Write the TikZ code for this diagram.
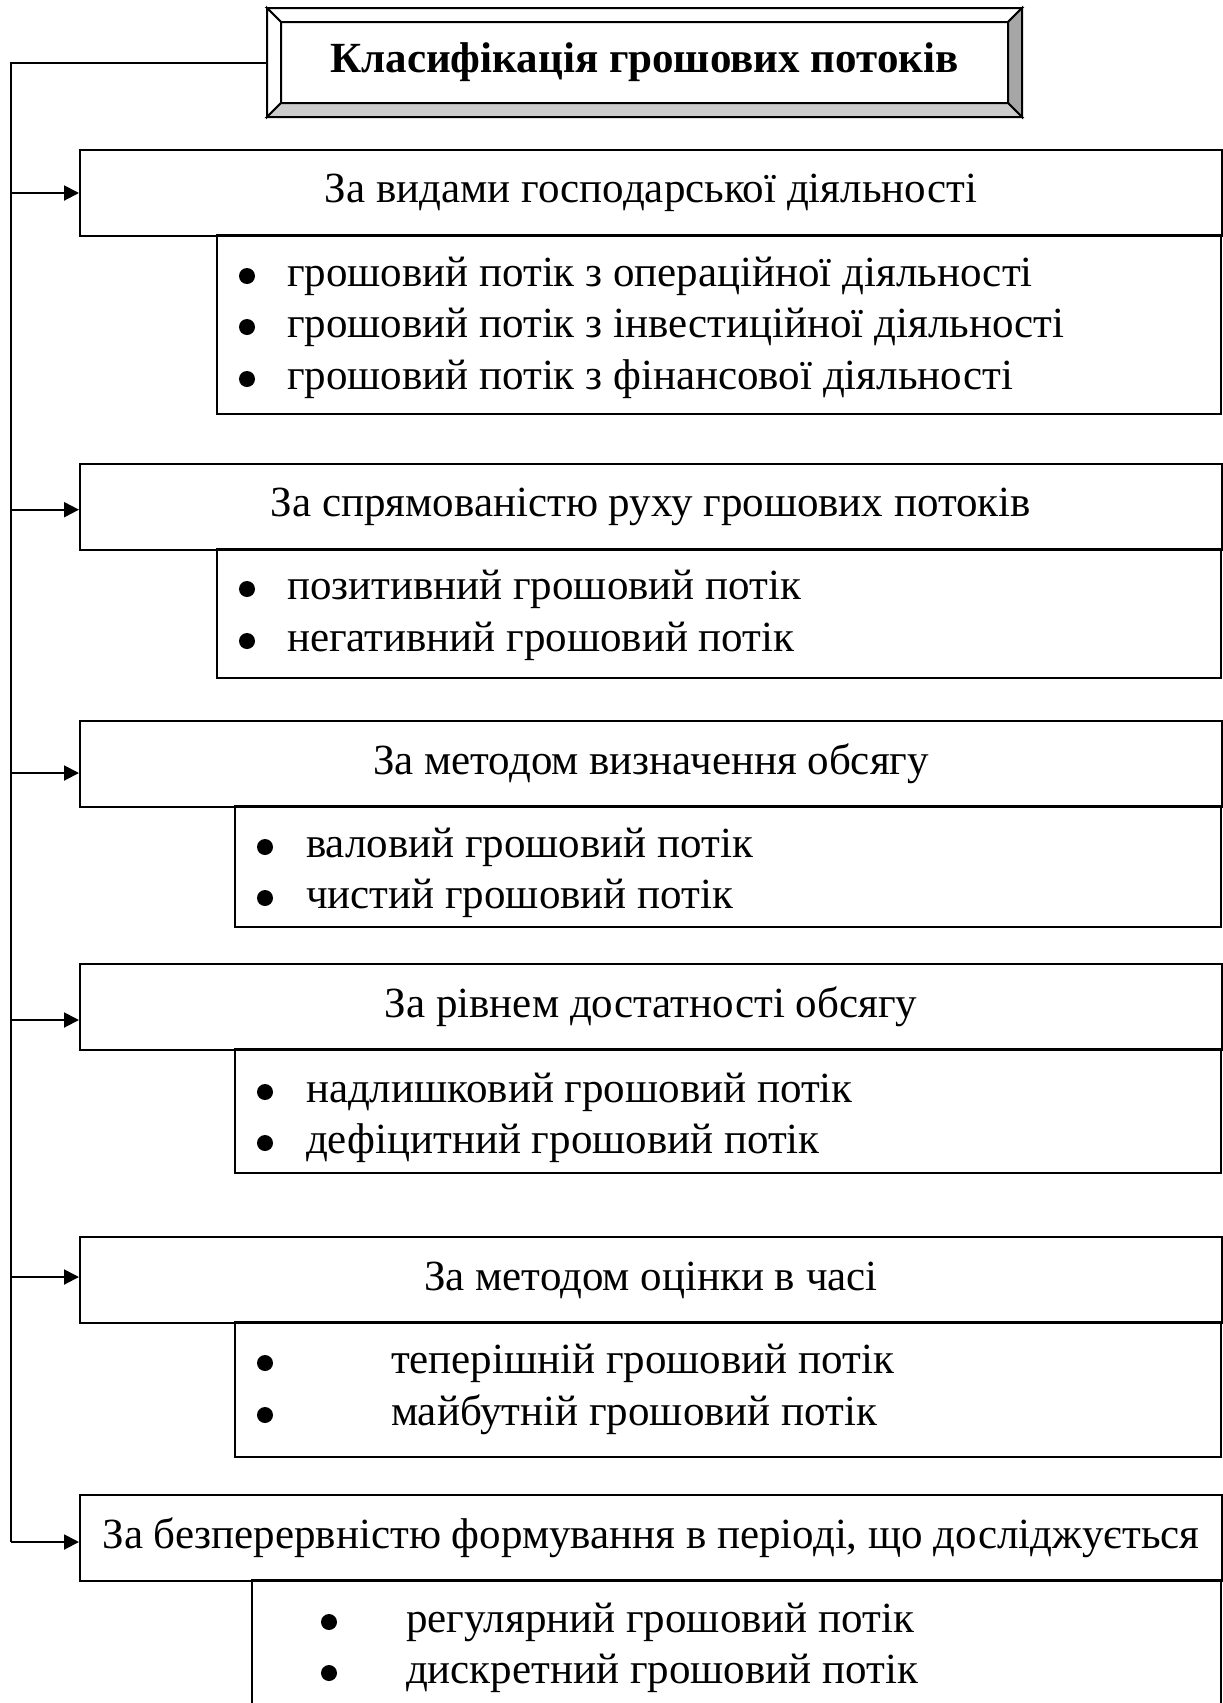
\documentclass[tikz,border=0pt]{standalone}
\usepackage{fontspec}
\setmainfont{Liberation Serif}
\usetikzlibrary{arrows.meta}

\newcommand\mainsize{\fontsize{12.9}{15.5}\selectfont}

\tikzset{
  ttlbox/.style={font=\mainsize\bfseries, minimum width=217.5pt, minimum height=23.7pt, inner sep=0pt},
  cat/.style={draw, anchor=north west, minimum width=342.6pt, minimum height=25.8pt, inner sep=0pt},
  item/.style={anchor=base west, inner sep=0pt, yshift=-3pt},
  arr/.style={-{Triangle[length=4.5pt,width=4.5pt]}},
}

\begin{document}
\begin{tikzpicture}[x=0.3pt, y=-0.3pt, line width=0.6pt, font=\mainsize]
  \useasboundingbox (0,0) rectangle (1223,1703);
  \clip (0,0) rectangle (1223,1703);

  % Title with bevelled frame
  \node[ttlbox] (ttl) at (644.5,62.5) {Класифікація грошових потоків};
  \coordinate (oNW) at ([shift={(-4.2pt,4.2pt)}]ttl.north west);
  \coordinate (oNE) at ([shift={(4.2pt,4.2pt)}]ttl.north east);
  \coordinate (oSW) at ([shift={(-4.2pt,-4.2pt)}]ttl.south west);
  \coordinate (oSE) at ([shift={(4.2pt,-4.2pt)}]ttl.south east);
  \filldraw[fill=white] (oNW) -- (oNE) -- (ttl.north east) -- (ttl.north west) -- cycle;
  \filldraw[fill=white] (oNW) -- (ttl.north west) -- (ttl.south west) -- (oSW) -- cycle;
  \filldraw[fill=black!35] (oNE) -- (oSE) -- (ttl.south east) -- (ttl.north east) -- cycle;
  \filldraw[fill=black!20] (oSW) -- (ttl.south west) -- (ttl.south east) -- (oSE) -- cycle;

  % Lists under the categories
  \foreach \l/\t/\b in {217/235/414, 217/549/678, 235/806/927, 235/1049/1173, 235/1322/1457, 252/1580/1720} {
    \draw (\l,\t) rectangle (1221,\b);
  }

  % Categories
  \foreach \name/\top/\txt in {
      c1/149/{За видами господарської діяльності},
      c2/463/{За спрямованістю руху грошових потоків},
      c3/720/{За методом визначення обсягу},
      c4/963/{За рівнем достатності обсягу},
      c5/1236/{За методом оцінки в часі},
      c6/1494/{За безперервністю формування в періоді, що досліджується}} {
    \node[cat] (\name) at (79,\top) {\txt};
  }

  % Items
  \foreach \xb/\xt/\y/\txt [count=\i] in {
      247/286/276/{грошовий потік з операційної діяльності},
      247/286/327/{грошовий потік з інвестиційної діяльності},
      247/286/379/{грошовий потік з фінансової діяльності},
      247/286/589/{позитивний грошовий потік},
      247/286/641/{негативний грошовий потік},
      265/305/847/{валовий грошовий потік},
      265/305/898/{чистий грошовий потік},
      265/305/1092/{надлишковий грошовий потік},
      265/305/1143/{дефіцитний грошовий потік},
      265/390/1363/{теперішній грошовий потік},
      265/390/1415/{майбутній грошовий потік},
      329/405/1622/{регулярний грошовий потік},
      329/405/1673/{дискретний грошовий потік}} {
    \fill (\xb,\y) circle (2.4pt);
    \node[item] (it\i) at (\xt,\y) {\txt};
  }

  % Trunk and arrows
  \coordinate (trunk) at (11,64);
  \foreach \c/\dy in {c1/0pt, c2/-0.8pt, c3/-2.7pt, c4/-3.9pt, c5/0.9pt, c6/-1.2pt} {
    \path (\c.west) ++(0,\dy) coordinate (e\c);
  }
  \draw (oNW |- ttl.west) -- (trunk |- ttl.west) -- (trunk |- ec6);
  \foreach \c in {c1, c2, c3, c4, c5, c6} {
    \draw[arr] (trunk |- e\c) -- (e\c);
  }
\end{tikzpicture}
\end{document}
